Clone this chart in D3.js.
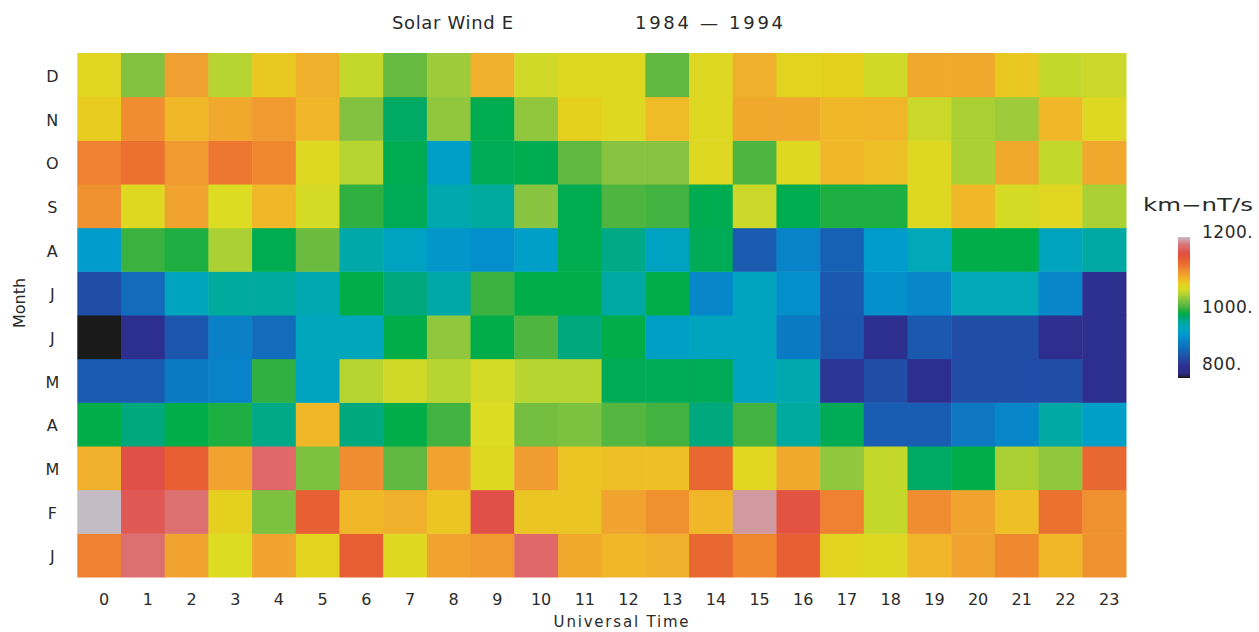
<!DOCTYPE html>
<html>
<head>
<meta charset="utf-8">
<script src="https://cdn.jsdelivr.net/npm/d3@7"></script>
<style>
  body { margin: 0; background: #fff; }
  text { font-family: "DejaVu Sans", sans-serif; fill: #2a2a2a; }
</style>
</head>
<body>
<svg class="heat__svg" width="1259" height="632"></svg>
<script>
// select the svg
const svg = d3.select('.heat__svg');

// hours along the bottom, months up the side (Jan at the bottom)
const hours = d3.range(24);
const monthLabels = ['J', 'F', 'M', 'A', 'M', 'J', 'J', 'A', 'S', 'O', 'N', 'D'];

// values per month, one per UT hour 0..23 (km-nT/s)
const jan = [1112, 1175, 1093, 1055, 1093, 1062, 1135, 1058, 1093, 1098, 1170, 1090, 1080, 1085, 1128, 1108, 1135, 1062, 1058, 1082, 1093, 1108, 1080, 1103];
const feb = [1200, 1160, 1175, 1065, 1018, 1135, 1080, 1085, 1072, 1155, 1072, 1072, 1093, 1103, 1080, 1190, 1150, 1112, 1045, 1105, 1093, 1075, 1122, 1103];
const mar = [1085, 1155, 1135, 1093, 1170, 1018, 1105, 1008, 1093, 1058, 1097, 1072, 1075, 1075, 1128, 1060, 1090, 1025, 1045, 975, 982, 1035, 1025, 1128];
const apr = [982, 968, 982, 990, 965, 1080, 968, 982, 1000, 1055, 1015, 1018, 1005, 1000, 968, 1000, 957, 978, 872, 872, 895, 908, 955, 930];
const may = [870, 870, 898, 905, 995, 938, 1040, 1050, 1040, 1052, 1040, 1040, 978, 978, 978, 938, 950, 840, 858, 830, 858, 858, 858, 830];
const jun = [800, 830, 865, 903, 885, 942, 942, 982, 1025, 982, 1003, 968, 982, 932, 938, 938, 898, 865, 830, 868, 858, 858, 828, 830];
const jul = [858, 885, 940, 958, 958, 948, 982, 968, 953, 998, 982, 982, 955, 982, 908, 938, 915, 868, 915, 908, 945, 945, 908, 830];
const aug = [925, 998, 990, 1035, 980, 1012, 952, 935, 920, 915, 930, 980, 965, 935, 978, 870, 905, 875, 925, 945, 982, 982, 940, 955];
const sep = [1103, 1058, 1093, 1055, 1080, 1052, 995, 978, 950, 958, 1022, 980, 1003, 1000, 980, 1048, 980, 990, 990, 1058, 1080, 1052, 1060, 1035];
const oct = [1112, 1122, 1098, 1118, 1108, 1058, 1040, 980, 930, 978, 980, 1008, 1022, 1022, 1058, 1003, 1058, 1080, 1075, 1058, 1035, 1090, 1045, 1090];
const nov = [1068, 1105, 1080, 1090, 1098, 1082, 1020, 975, 1025, 980, 1025, 1065, 1058, 1078, 1058, 1090, 1090, 1080, 1082, 1048, 1035, 1030, 1080, 1058];
const dec = [1060, 1020, 1095, 1040, 1070, 1085, 1045, 1010, 1030, 1085, 1050, 1058, 1058, 1008, 1058, 1085, 1062, 1065, 1050, 1090, 1090, 1070, 1045, 1048];
const monthValues = [jan, feb, mar, apr, may, jun, jul, aug, sep, oct, nov, dec];

// colour bar ticks
const barTicks = [800, 1000, 1200];

// rainbow + white table, as in the colour bar
const colorStops = [
  [800, '#1a1a1a'], [812, '#2a2a80'], [835, '#2e3092'], [860, '#1f50a8'],
  [880, '#1466b8'], [905, '#0882c8'], [925, '#009ccc'], [945, '#00a8b8'],
  [960, '#00aa98'], [972, '#00a870'], [982, '#00ad48'], [995, '#30b040'],
  [1008, '#60b840'], [1022, '#88c440'], [1040, '#b8d430'], [1055, '#dcdc22'],
  [1068, '#e8cc20'], [1080, '#f0b828'], [1095, '#f0a030'], [1110, '#f08430'],
  [1125, '#ea6c30'], [1140, '#e65834'], [1155, '#e05048'], [1170, '#e06868'],
  [1180, '#d87878'], [1192, '#d0a0a8'], [1200, '#c4bcc4']
];
const color = d3.scaleLinear()
  .domain(colorStops.map(d => d[0]))
  .range(colorStops.map(d => d[1]))
  .clamp(true);

// plot area
const plotLeft = 77.3, plotRight = 1126, plotTop = 53, plotBottom = 577;

const x = d3.scaleBand().domain(hours).range([plotLeft, plotRight]);
const y = d3.scaleBand().domain(d3.range(12).reverse()).range([plotTop, plotBottom]);

// flatten into cells
const cells = [];
monthValues.forEach((row, m) => row.forEach((v, h) => cells.push({ m, h, v })));

svg.append('g')
  .selectAll('rect')
  .data(cells)
  .join('rect')
  .attr('x', d => x(d.h))
  .attr('y', d => y(d.m))
  .attr('width', x.bandwidth() + 0.5)
  .attr('height', y.bandwidth() + 0.5)
  .attr('fill', d => color(d.v));

// x axis
const xAxis = svg.append('g')
  .attr('transform', `translate(0,${plotBottom})`)
  .call(d3.axisBottom(x).tickSize(0).tickPadding(17));
xAxis.select('.domain').remove();
xAxis.selectAll('text')
  .attr('dx', 5)
  .style('font-size', '16px')
  .style('font-family', '"DejaVu Sans", sans-serif')
  .attr('fill', '#2a2a2a');

// y axis
const yAxis = svg.append('g')
  .attr('transform', `translate(${plotLeft},0)`)
  .call(d3.axisLeft(y).tickSize(0).tickFormat(i => monthLabels[i]));
yAxis.select('.domain').remove();
yAxis.selectAll('text')
  .attr('x', -25)
  .attr('dy', '0.45em')
  .attr('text-anchor', 'middle')
  .style('font-size', '16px')
  .style('font-family', '"DejaVu Sans", sans-serif')
  .attr('fill', '#2a2a2a');

// axis titles
svg.append('text')
  .attr('x', 622).attr('y', 627)
  .attr('text-anchor', 'middle')
  .style('font-size', '15px')
  .style('letter-spacing', '1.8px')
  .text('Universal Time');

svg.append('text')
  .attr('transform', 'translate(25,303) rotate(-90)')
  .attr('text-anchor', 'middle')
  .style('font-size', '16px')
  .text('Month');

// title
svg.append('text')
  .attr('x', 392).attr('y', 29)
  .attr('textLength', 121)
  .style('font-size', '18px')
  .text('Solar Wind E');

svg.append('text')
  .attr('x', 635).attr('y', 29)
  .attr('textLength', 148)
  .style('font-size', '18px')
  .text('1984 \u2014 1994');

// colour bar
const barX = 1178, barW = 12;
const barY = d3.scaleLinear().domain([800, 1200]).range([378, 237]);

const defs = svg.append('defs');
const grad = defs.append('linearGradient')
  .attr('id', 'barGrad')
  .attr('x1', 0).attr('y1', 1).attr('x2', 0).attr('y2', 0);
grad.selectAll('stop')
  .data(colorStops)
  .join('stop')
  .attr('offset', d => (d[0] - 800) / 400)
  .attr('stop-color', d => d[1]);

svg.append('rect')
  .attr('x', barX)
  .attr('y', barY(1200))
  .attr('width', barW)
  .attr('height', barY(800) - barY(1200))
  .attr('fill', 'url(#barGrad)');

svg.append('g')
  .selectAll('text')
  .data(barTicks)
  .join('text')
  .attr('x', 1202)
  .attr('y', d => barY(d))
  .attr('dy', d => d === 800 ? '-0.45em' : d === 1200 ? '0.05em' : '0.35em')
  .style('font-size', '17px')
  .style('letter-spacing', '0.5px')
  .text(d => d + '.');

svg.append('text')
  .attr('x', 1143).attr('y', 211)
  .attr('textLength', 110)
  .attr('lengthAdjust', 'spacingAndGlyphs')
  .style('font-size', '17px')
  .text('km\u2212nT/s');
</script>
</body>
</html>
